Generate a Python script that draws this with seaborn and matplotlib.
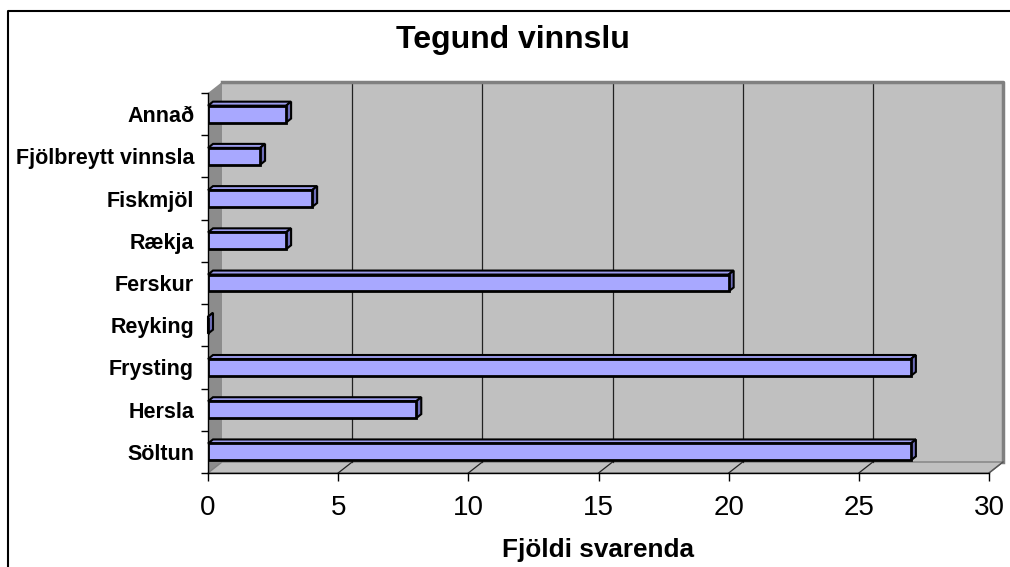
import numpy as np
import pandas as pd
import matplotlib
matplotlib.use("Agg")
import matplotlib.pyplot as plt
import seaborn as sns
from matplotlib.patches import Polygon
from matplotlib.lines import Line2D
from matplotlib.transforms import IdentityTransform

# data (top to bottom as in the chart)
categories = ["Annað", "Fjölbreytt vinnsla", "Fiskmjöl", "Rækja", "Ferskur",
              "Reyking", "Frysting", "Hersla", "Söltun"]
counts = [3, 2, 4, 3, 20, 0, 27, 8, 27]
x_ticks = [0, 5, 10, 15, 20, 25, 30]

plt.rcParams['font.family'] = ['Liberation Sans', 'DejaVu Sans']

W, H = 1010, 567
fig = plt.figure(figsize=(W / 100, H / 100), dpi=100)

def fpos(l, t, r, b):
    return [l / W, 1 - b / H, (r - l) / W, (b - t) / H]

ax = fig.add_axes(fpos(208, 93, 989, 473))
ax.patch.set_visible(False)

df = pd.DataFrame({"Vinnsla": categories, "Fjöldi": counts})
sns.barplot(data=df, x="Fjöldi", y="Vinnsla", orient="h", color="#A8A8FF",
            saturation=1, width=0.4, edgecolor="black", linewidth=2.0, ax=ax)
bars = list(ax.patches)

ax.set_xlim(x_ticks[0], x_ticks[-1])
ax.set_ylim(len(categories) - 0.5, -0.5)

# 3D depth offsets in pixels
DX, DY = 14, 11
BDX, BDY = 5, 4

def disp(x, y, d=0.0):
    p = ax.transData.transform((x, y))
    return (p[0] + DX * d, p[1] + DY * d)

def add_poly(pts, **kw):
    ax.add_patch(Polygon(pts, closed=True, transform=IdentityTransform(),
                         clip_on=False, **kw))

def add_line(pts, **kw):
    xs, ys = zip(*pts)
    ax.add_line(Line2D(xs, ys, transform=IdentityTransform(), clip_on=False, **kw))

top, bot = -0.5, len(categories) - 0.5
xmax = x_ticks[-1]

# back wall
add_poly([disp(0, top, 1), disp(xmax, top, 1), disp(xmax, bot, 1), disp(0, bot, 1)],
         fc="#C0C0C0", ec="none", zorder=0.5)
# left wall
add_poly([disp(0, top, 0), disp(0, top, 1), disp(0, bot, 1), disp(0, bot, 0)],
         fc="#8C8C8C", ec="none", zorder=0.6)
# floor
add_poly([disp(0, bot, 0), disp(xmax, bot, 0), disp(xmax, bot, 1), disp(0, bot, 1)],
         fc="#C0C0C0", ec="#808080", lw=1, zorder=0.6)

# gridlines on back wall and floor
for v in x_ticks[1:-1]:
    add_line([disp(v, top, 1), disp(v, bot, 1)], color="#222222", lw=0.9, zorder=0.7)
    add_line([disp(v, bot, 0), disp(v, bot, 1)], color="#222222", lw=0.9, zorder=0.7)

# wall border
add_line([disp(0, top, 1), disp(xmax, top, 1), disp(xmax, bot, 1)],
         color="#808080", lw=2.5, zorder=0.8)
add_line([disp(xmax, bot, 0), disp(xmax, bot, 1)], color="#555555", lw=1, zorder=0.8)

# 3D bar faces
for bar in bars:
    bar.set_zorder(5)
    x0, y0 = bar.get_x(), bar.get_y()
    w, h = bar.get_width(), bar.get_height()
    a, b, c = disp(x0, y0), disp(x0 + w, y0), disp(x0 + w, y0 + h)
    off = lambda p: (p[0] + BDX, p[1] + BDY)
    add_poly([a, b, off(b), off(a)], fc="#9C9CEE", ec="black", lw=1.5, zorder=4.8)
    add_poly([b, c, off(c), off(b)], fc="#6E6EB8", ec="black", lw=1.5, zorder=4.9)

# axes styling
for s in ["top", "right"]:
    ax.spines[s].set_visible(False)
for s in ["left", "bottom"]:
    ax.spines[s].set_color("black")
    ax.spines[s].set_linewidth(1)

ax.set_xticks(x_ticks)
ax.set_yticks(np.arange(-0.5, len(categories), 1), minor=True)
ax.tick_params(axis="x", length=6, width=1, pad=10, labelsize=20, colors="black")
ax.tick_params(axis="y", which="major", length=0, pad=10, labelsize=15.5)
ax.tick_params(axis="y", which="minor", length=5, width=1, color="black")
for lbl in ax.get_yticklabels():
    lbl.set_fontweight("bold")
ax.set_xlabel("")
ax.set_ylabel("")

fig.text(513 / W, 1 - 48 / H, "Tegund vinnslu", ha="center", va="baseline",
         fontsize=23, fontweight="bold")
fig.text(598 / W, 1 - 557 / H, "Fjöldi svarenda", ha="center", va="baseline",
         fontsize=18.8, fontweight="bold")

# chart frame
fig.add_artist(Line2D([8 / W, 8 / W, 1.0], [0, 1 - 11 / H, 1 - 11 / H],
                      transform=fig.transFigure, color="black", lw=1.5))

fig.savefig("out.png", dpi=100, facecolor="white")
